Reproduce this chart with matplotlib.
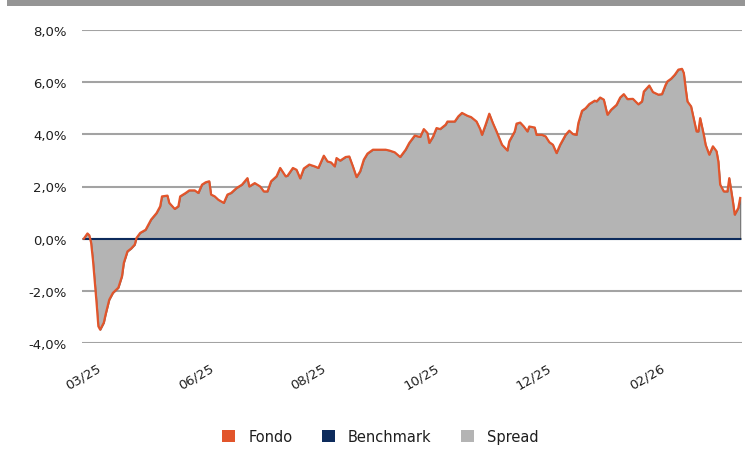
import numpy as np
import matplotlib
matplotlib.use('Agg')
import matplotlib.pyplot as plt
from matplotlib.patches import Patch, Rectangle

# trading-day index and fund excess return (%)
days = [1, 3, 4, 5, 6, 8, 9, 10, 12, 13, 15, 17, 20, 22, 23, 25, 27, 29, 30, 32,
        35, 36, 38, 41, 43, 44, 47, 48, 51, 53, 54, 57, 59, 62, 64, 66, 68, 70, 71, 73,
        75, 78, 80, 82, 85, 88, 91, 92, 95, 98, 100, 102, 104, 107, 109, 112, 113, 116, 118, 120,
        122, 125, 128, 130, 133, 135, 137, 139, 140, 142, 145, 147, 149, 151, 153, 155, 157, 160, 163, 167,
        169, 172, 175, 178, 180, 183, 186, 188, 190, 191, 193, 195, 197, 200, 201, 205, 207, 209, 212, 214,
        217, 219, 220, 222, 224, 226, 228, 231, 234, 235, 238, 239, 241, 243, 245, 246, 249, 250, 253, 255,
        257, 259, 261, 263, 266, 268, 270, 272, 273, 275, 277, 279, 282, 283, 285, 287, 289, 291, 294, 296,
        298, 300, 303, 306, 308, 309, 312, 314, 317, 319, 321, 322, 324, 326, 328, 330, 331, 332, 333, 335,
        336, 338, 339, 340, 342, 343, 345, 347, 349, 350, 351, 353, 355, 356, 357, 358, 359, 361, 362]
fondo = [0.0, 0.2, 0.13, -0.15, -0.8, -2.45, -3.36, -3.49, -3.22, -2.9, -2.34, -2.08, -1.88, -1.44, -0.93, -0.49, -0.38, -0.23, 0.03, 0.22,
         0.34, 0.47, 0.73, 0.98, 1.24, 1.62, 1.65, 1.37, 1.14, 1.24, 1.62, 1.75, 1.85, 1.85, 1.75, 2.07, 2.16, 2.2, 1.69, 1.62,
         1.49, 1.37, 1.69, 1.75, 1.94, 2.07, 2.32, 2.0, 2.13, 2.0, 1.81, 1.81, 2.2, 2.39, 2.71, 2.39, 2.41, 2.71, 2.64, 2.31,
         2.69, 2.84, 2.77, 2.71, 3.18, 2.96, 2.92, 2.77, 3.09, 2.99, 3.13, 3.15, 2.77, 2.36, 2.58, 3.03, 3.26, 3.41, 3.41, 3.41,
         3.38, 3.31, 3.13, 3.41, 3.67, 3.95, 3.9, 4.2, 4.05, 3.67, 3.9, 4.24, 4.2, 4.37, 4.49, 4.49, 4.69, 4.82, 4.71, 4.66,
         4.49, 4.2, 3.98, 4.37, 4.79, 4.43, 4.11, 3.6, 3.38, 3.73, 4.11, 4.41, 4.45, 4.3, 4.11, 4.3, 4.26, 3.98, 3.98, 3.92,
         3.7, 3.6, 3.28, 3.6, 3.98, 4.14, 4.01, 3.98, 4.43, 4.9, 5.0, 5.16, 5.29, 5.26, 5.41, 5.33, 4.75, 4.94, 5.13, 5.41,
         5.54, 5.35, 5.36, 5.15, 5.26, 5.64, 5.87, 5.62, 5.52, 5.54, 5.9, 6.03, 6.13, 6.28, 6.48, 6.51, 6.35, 5.77, 5.26, 5.07,
         4.75, 4.11, 4.11, 4.62, 3.98, 3.6, 3.22, 3.54, 3.35, 2.96, 2.07, 1.81, 1.81, 2.32, 1.88, 1.43, 0.92, 1.18, 1.56]
benchmark = [0.0] * len(days)

tick_days = [8, 70, 132, 194, 256, 318]
tick_labels = ['03/25', '06/25', '08/25', '10/25', '12/25', '02/26']
y_ticks = [-4, -2, 0, 2, 4, 6, 8]

C_FONDO = '#e2552b'
C_BENCH = '#0d2b5c'
C_SPREAD = '#b4b4b4'
C_GRID = '#a3a3a3'
C_TEXT = '#1e1e1e'

plt.rcParams['font.family'] = ['DejaVu Sans']

fig = plt.figure(figsize=(7.5, 4.56), dpi=100)
fig.patches.append(Rectangle((7 / 750, 1 - 7 / 456), 738 / 750, 7 / 456,
                             transform=fig.transFigure, facecolor='#959595',
                             edgecolor='none'))

ax = fig.add_axes([82 / 750, 112 / 456, 660 / 750, 313 / 456])
ax.set_xlim(0, 363)
ax.set_ylim(-4, 8)

for v in y_ticks:
    ax.axhline(v, color=C_GRID, lw=1.5, zorder=1)

d = np.array(days)
f = np.array(fondo)
b = np.array(benchmark)
ax.fill_between(d, b, f, facecolor=C_SPREAD, edgecolor='#6f6f6f', lw=0.8, zorder=2)
ax.plot(d, b, color=C_BENCH, lw=1.5, zorder=3)
ax.plot(d, f, color=C_FONDO, lw=1.6, zorder=4)

ax.set_yticks(y_ticks)
ax.yaxis.set_major_formatter(matplotlib.ticker.FuncFormatter(
    lambda v, p: ('%.1f%%' % v).replace('.', ',')))
ax.set_xticks(tick_days)
ax.set_xticklabels(tick_labels, rotation=30, ha='right', va='top',
                   rotation_mode='anchor')
ax.tick_params(axis='y', length=0, pad=11, labelsize=9.5, labelcolor=C_TEXT)
ax.tick_params(axis='x', length=0, pad=13, labelsize=9.5, labelcolor=C_TEXT)
for s in ax.spines.values():
    s.set_visible(False)

handles = [Patch(facecolor=C_FONDO, label='Fondo'),
           Patch(facecolor=C_BENCH, label='Benchmark'),
           Patch(facecolor=C_SPREAD, label='Spread')]
fig.legend(handles=handles, loc='lower center', bbox_to_anchor=(0.507, -0.005),
           ncol=3, frameon=False, handlelength=0.9, handleheight=0.9,
           handletextpad=0.9, columnspacing=2.0, fontsize=10.5,
           labelcolor=C_TEXT)

fig.savefig('out.png', dpi=100)
plt.close()
